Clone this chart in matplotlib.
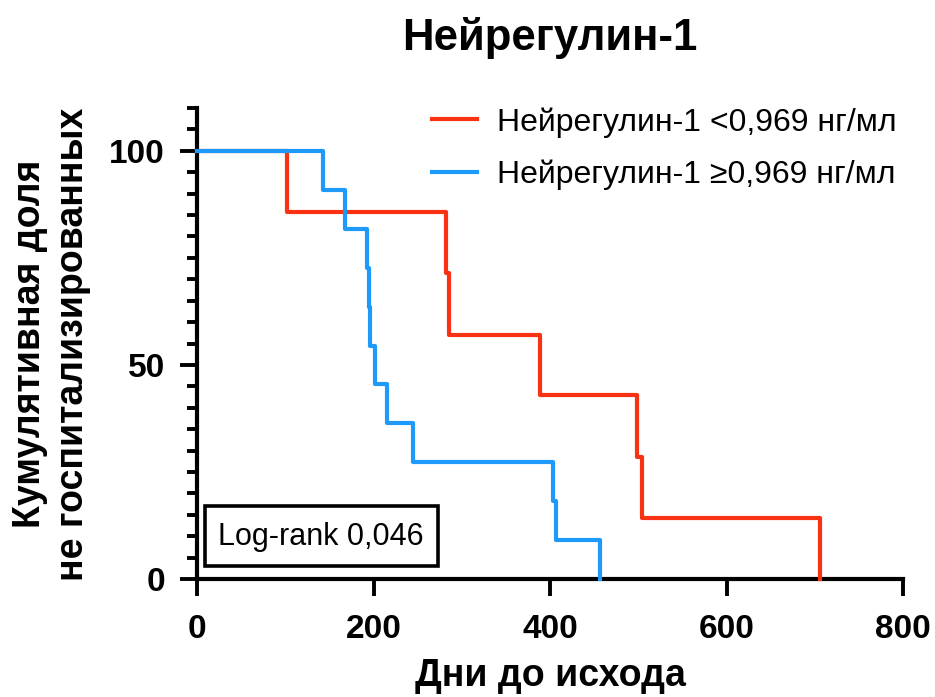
import matplotlib
matplotlib.use("Agg")
import matplotlib.pyplot as plt
from matplotlib.ticker import MultipleLocator, FixedLocator
from matplotlib.patches import Rectangle

plt.rcParams['font.family'] = ['Liberation Sans', 'DejaVu Sans']

# Data (Kaplan-Meier steps)
low_times = [0, 102, 282, 286, 389, 499, 504, 706]
low_vals = [100, 85.7, 71.4, 57.1, 42.9, 28.6, 14.3, 0]
high_times = [0, 143, 168, 193, 195, 196, 202, 215, 245, 403, 407, 457]
high_vals = [100, 90.9, 81.8, 72.7, 63.6, 54.5, 45.5, 36.4, 27.3, 18.2, 9.1, 0]
labels = ["Нейрегулин-1 <0,969 нг/мл", "Нейрегулин-1 ≥0,969 нг/мл"]
x_ticks = [0, 200, 400, 600, 800]
y_ticks = [0, 50, 100]
red = "#FA3214"
blue = "#1E9BFA"

fig = plt.figure(figsize=(9.35, 6.97), dpi=100)
ax = fig.add_axes([0.2107, 0.1693, 0.7551, 0.6757])

ax.step(low_times, low_vals, where='post', color=red, lw=3, label=labels[0], clip_on=False, zorder=3)
ax.step(high_times, high_vals, where='post', color=blue, lw=3, label=labels[1], clip_on=False, zorder=3)

ax.set_xlim(0, 800)
ax.set_ylim(0, 110)
for s in ['top', 'right']:
    ax.spines[s].set_visible(False)
for s in ['left', 'bottom']:
    ax.spines[s].set_linewidth(3)

ax.xaxis.set_major_locator(FixedLocator(x_ticks))
ax.yaxis.set_major_locator(FixedLocator(y_ticks))
ax.yaxis.set_minor_locator(MultipleLocator(5))
ax.tick_params(axis='both', which='major', length=12, width=2.8, labelsize=24)
ax.tick_params(axis='x', which='major', pad=13)
ax.tick_params(axis='y', which='major', pad=11)
ax.tick_params(axis='y', which='minor', length=7, width=2.8)
for lab in ax.get_xticklabels() + ax.get_yticklabels():
    lab.set_fontweight('bold')

fig.text(0.588, 1 - 50/697, "Нейрегулин-1", fontsize=31.5, fontweight='bold',
         ha='center', va='baseline')
fig.text(550/935, 1 - 686/697, "Дни до исхода", fontsize=27, fontweight='bold',
         ha='center', va='baseline')
fig.text(52/935, 1 - 344/697, "Кумулятивная доля\nне госпитализированных", fontsize=27,
         fontweight='bold', rotation=90, ha='center', va='center', multialignment='center',
         linespacing=1.25)

leg = ax.legend(loc='upper left', bbox_to_anchor=(0.333, 1.002), frameon=False, fontsize=23,
                handlelength=1.41, handletextpad=0.63, labelspacing=0.7,
                borderaxespad=0, borderpad=0)
for h in leg.get_lines():
    h.set_linewidth(3)

ax.add_patch(Rectangle((0.0113, 0.0276), 0.3297, 0.1274, transform=ax.transAxes,
                       facecolor='white', edgecolor='black', linewidth=2.6, zorder=4))
ax.text(0.176, 0.0722, "Log-rank 0,046", transform=ax.transAxes, fontsize=22,
        ha='center', va='baseline', zorder=5)

fig.savefig("out.png", dpi=100)
